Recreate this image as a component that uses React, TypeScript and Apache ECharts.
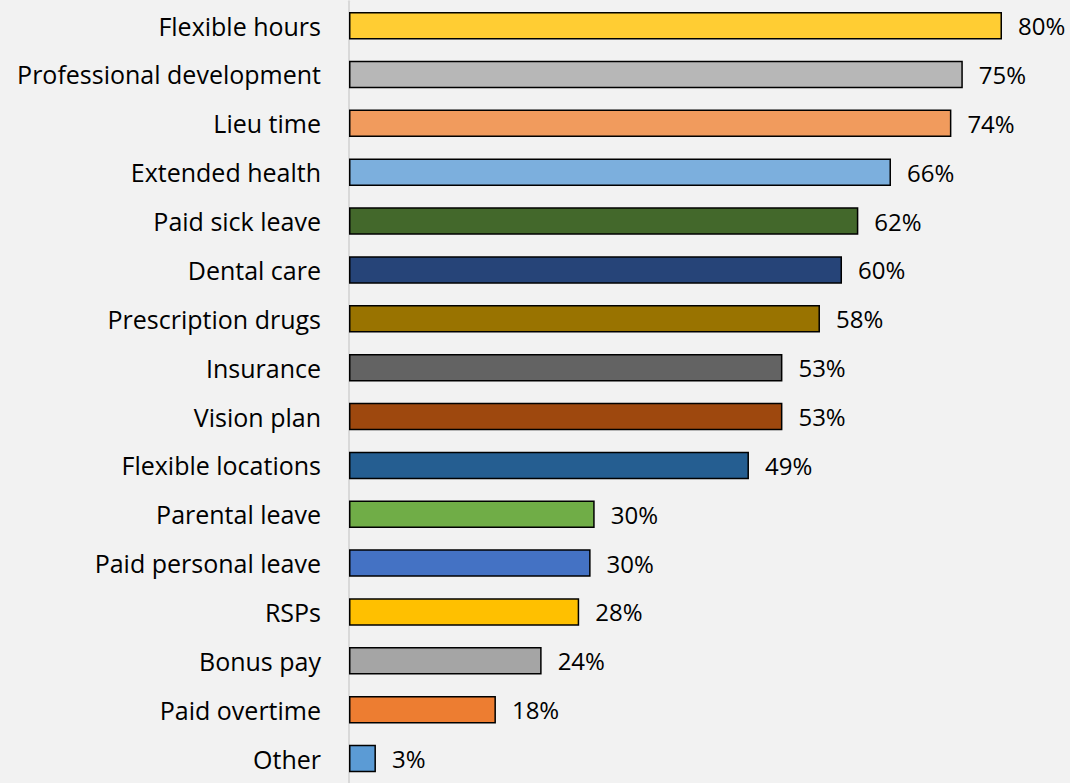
import React, { useEffect, useRef } from "react";
import * as echarts from "echarts";

const categories = [
  "Flexible hours",
  "Professional development",
  "Lieu time",
  "Extended health",
  "Paid sick leave",
  "Dental care",
  "Prescription drugs",
  "Insurance",
  "Vision plan",
  "Flexible locations",
  "Parental leave",
  "Paid personal leave",
  "RSPs",
  "Bonus pay",
  "Paid overtime",
  "Other",
];

const values = [80, 75.2, 73.8, 66.4, 62.4, 60.4, 57.7, 53.1, 53.1, 49, 30.1, 29.6, 28.2, 23.6, 18, 3.3];

const barColors = [
  "#FFCD33",
  "#B7B7B7",
  "#F19B5D",
  "#7CAFDD",
  "#43682B",
  "#264478",
  "#997300",
  "#636363",
  "#9E480E",
  "#255E91",
  "#70AD47",
  "#4472C4",
  "#FFC000",
  "#A5A5A5",
  "#ED7D31",
  "#5B9BD5",
];

export default function App() {
  const ref = useRef<HTMLDivElement>(null);

  useEffect(() => {
    document.body.style.margin = "0";
    document.body.style.background = "#F2F2F2";
    document.body.style.overflow = "hidden";
    if (!ref.current) return;
    const chart = echarts.init(ref.current, undefined, { renderer: "svg" });
    const font = "'Open Sans', 'Noto Sans', sans-serif";
    chart.setOption({
      animation: false,
      backgroundColor: "#F2F2F2",
      grid: { left: 349, right: 68, top: 1.2, height: 792.5, containLabel: false },
      xAxis: {
        type: "value",
        min: 0,
        max: 80,
        show: false,
      },
      yAxis: {
        type: "category",
        data: categories,
        inverse: true,
        axisLine: { show: true, lineStyle: { color: "#D9D9D9", width: 2 } },
        axisTick: { show: false },
        axisLabel: {
          color: "#000000",
          fontSize: 25,
          fontFamily: font,
          margin: 28,
        },
        splitLine: { show: false },
      },
      series: [
        {
          type: "bar",
          barWidth: 27.5,
          data: values.map((v, i) => ({
            value: v,
            itemStyle: { color: barColors[i] },
          })),
          itemStyle: { borderColor: "#000000", borderWidth: 1.5 },
          label: {
            show: true,
            position: "right",
            distance: 16,
            color: "#000000",
            fontSize: 24,
            fontFamily: font,
            formatter: (p: any) => Math.round(p.value) + "%",
          },
        },
      ],
    });
    return () => chart.dispose();
  }, []);

  return (
    <div
      ref={ref}
      style={{ position: "fixed", left: 0, top: 0, width: 1070, height: 783, background: "#F2F2F2" }}
    />
  );
}
